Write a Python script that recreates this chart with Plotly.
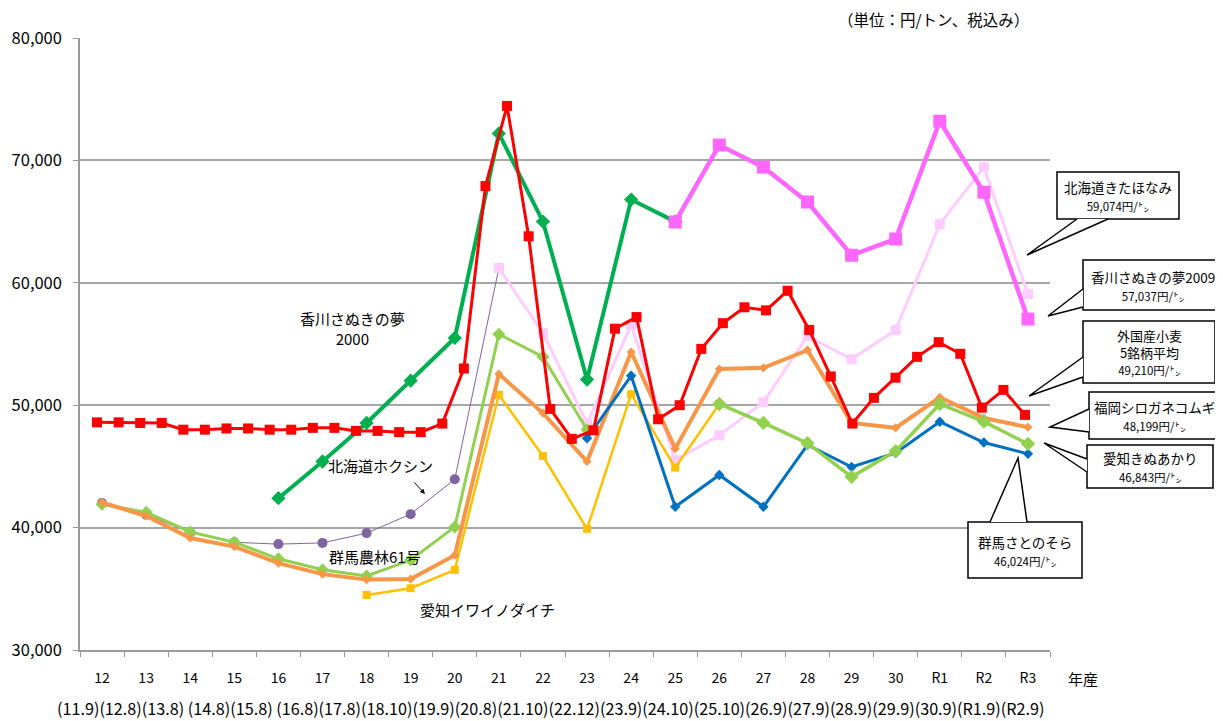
import plotly.graph_objects as go

# ---------------- data ----------------
years = ["12", "13", "14", "15", "16", "17", "18", "19", "20", "21", "22",
         "23", "24", "25", "26", "27", "28", "29", "30", "R1", "R2", "R3"]

kagawa2000 = [None, None, None, None, 42400, 45400, 48550, 52000, 55500, 72200,
              65000, 52100, 66800, 65000, None, None, None, None, None, None, None, None]
kagawa2009 = [None] * 13 + [64970, 71250, 69450, 66600, 62250, 63580, 73200, 67400, 57037]
kitahonami = [None] * 9 + [61200, 55900, 48500, 56550, 45500, 47550, 50250, 55650,
                           53750, 56150, 64800, 69450, 59074]
hokushin = [42000, 41050, 39600, 38800, 38650, 38750, 39550, 41100, 43950, 61200] + [None] * 12
gunma61 = [41900, 41250, 39650, 38800, 37450, 36550, 36050, 37350, 40050, 55800,
           53950, 48000] + [None] * 10
fukuoka = [42050, 40950, 39150, 38450, 37100, 36200, 35750, 35800, 37750, 52550, 49350,
           45400, 54350, 46450, 52950, 53050, 54500, 48550, 48150, 50650, 48950, 48199]
satonosora = [None] * 11 + [47300, 52400, 41700, 44300, 41700, 46750, 44950, 46100,
                            48650, 46950, 46024]
iwainodaichi = [None] * 6 + [34500, 35050, 36550, 50850, 45850, 39900, 50900, 44900,
                             50100] + [None] * 7
kinuakari = [None] * 14 + [50100, 48550, 46900, 44150, 46250, 50100, 48650, 46843]

# imported wheat (5-brand average), twice a year
gaikoku = [48600, 48600, 48550, 48550, 48000, 48000, 48100, 48100, 48000, 48000,
           48150, 48150, 47900, 47900, 47800, 47800, 48500, 53000, 67900, 74450,
           63800, 49700, 47250, 47950, 56250, 57200, 48850, 50000, 54600, 56700,
           58000, 57750, 59350, 56150, 52350, 48500, 50600, 52250, 53950, 55150,
           54200, 49800, 51250, 49210]
gaikoku_periods = list(range(len(gaikoku)))

period_text = ("(11.9)(12.8)(13.8) (14.8)(15.8) (16.8)(17.8)(18.10)(19.9)(20.8)(21.10)"
               "(22.12)(23.9)(24.10)(25.10)(26.9)(27.9)(28.9)(29.9)(30.9)(R1.9)(R2.9)")

# ---------------- layout helpers ----------------
W, H = 1223, 721          # browser window
OFF = 8                   # default page body margin
L, R, T, B = 80, 1050, 38, 650   # plot area in window pixels
FONT = "Noto Sans CJK JP"


def px(x):
    return (x - L) / (R - L)


def py(y):
    return (B - y) / (B - T)


fig = go.Figure()


def add(name, y, color, width, symbol, size, xa="x"):
    fig.add_trace(go.Scatter(
        x=years if xa == "x" else gaikoku_periods,
        y=y, name=name, mode="lines+markers", xaxis=xa, yaxis="y",
        line=dict(color=color, width=width),
        marker=dict(symbol=symbol, size=size, color=color),
        hoverinfo="name+y", showlegend=False))


add("北海道ホクシン", hokushin, "#8064A2", 1, "circle", 10)
add("北海道きたほなみ", kitahonami, "#FFCCFF", 3, "square", 10)
add("愛知イワイノダイチ", iwainodaichi, "#FFC000", 2.5, "square", 8)
add("群馬農林61号", gunma61, "#92D050", 3, "diamond", 10)
add("福岡シロガネコムギ", fukuoka, "#F79646", 4, "diamond", 7)
add("群馬さとのそら", satonosora, "#0070C0", 3, "diamond", 8)
add("愛知きぬあかり", kinuakari, "#92D050", 3.5, "diamond", 11)
add("香川さぬきの夢2000", kagawa2000, "#00B050", 4, "diamond", 11)
add("香川さぬきの夢2009", kagawa2009, "#FF66FF", 4.5, "square", 13)
add("外国産小麦5銘柄平均", gaikoku, "#FF0000", 3, "square", 10, xa="x2")

annotations = []
shapes = []


def text(x, y, s, size=15, xanchor="center"):
    annotations.append(dict(x=px(x), y=py(y), xref="paper", yref="paper", text=s,
                            showarrow=False, xanchor=xanchor, yanchor="middle",
                            borderpad=0,
                            font=dict(family=FONT, size=size, color="black")))


text(352, 328, "香川さぬきの夢<br>2000", 15)
text(380, 465, "北海道ホクシン", 15)
text(375, 556, "群馬農林61号", 15)
text(487, 609, "愛知イワイノダイチ", 15)
text(933, 19, "（単位：円/トン、税込み）", 15.5)
text(1083, 678, "年産", 15)
text(550, 708, period_text, 16.2)

# small arrow near ホクシン label
annotations.append(dict(x=px(425), y=py(494), xref="paper", yref="paper", text="",
                        showarrow=True, ax=-12, ay=-13, arrowhead=2, arrowsize=1,
                        arrowwidth=1, arrowcolor="black"))


def callout(x0, y0, x1, y1, base1, base2, tip, lines, size=13.5):
    shapes.append(dict(type="rect", xref="paper", yref="paper",
                       x0=px(x0), x1=px(x1), y0=py(y1), y1=py(y0),
                       fillcolor="white", line=dict(color="black", width=1.5), layer="above"))
    p = "M {} {} L {} {} L {} {} Z".format(px(base1[0]), py(base1[1]), px(tip[0]), py(tip[1]),
                                            px(base2[0]), py(base2[1]))
    shapes.append(dict(type="path", xref="paper", yref="paper", path=p,
                       fillcolor="white", line=dict(width=0), layer="above"))
    p2 = "M {} {} L {} {} L {} {}".format(px(base1[0]), py(base1[1]), px(tip[0]), py(tip[1]),
                                           px(base2[0]), py(base2[1]))
    shapes.append(dict(type="path", xref="paper", yref="paper", path=p2,
                       line=dict(color="black", width=1.5), layer="above"))
    annotations.append(dict(x=px((x0 + x1) / 2), y=py((y0 + y1) / 2), xref="paper",
                            yref="paper", text=lines, showarrow=False,
                            xanchor="center", yanchor="middle", borderpad=0,
                            font=dict(family=FONT, size=size, color="black")))


small = "<span style='font-size:11.5px'>{}</span>"
callout(1057, 172, 1179, 219, (1077, 219), (1108, 219), (1027, 255),
        "北海道きたほなみ<br>" + small.format("59,074円/㌧"))
callout(1083, 260, 1223, 310, (1083, 289), (1083, 307), (1048, 316),
        "香川さぬきの夢2009<br>" + small.format("57,037円/㌧"))
callout(1083, 321, 1215, 383, (1083, 357), (1083, 377), (1029, 396),
        "外国産小麦<br>5銘柄平均<br>" + small.format("49,210円/㌧"), size=13)
callout(1089, 392, 1220, 439, (1089, 409), (1089, 432), (1050, 427),
        "福岡シロガネコムギ<br>" + small.format("48,199円/㌧"))
callout(1087, 445, 1213, 488, (1087, 459), (1087, 472), (1044, 443),
        "愛知きぬあかり<br>" + small.format("46,843円/㌧"))
callout(968, 522, 1082, 578, (990, 522), (1027, 522), (1018, 458),
        "群馬さとのそら<br>" + small.format("46,024円/㌧"))

fig.update_layout(
    width=W - OFF, height=H - OFF,
    margin=dict(l=L - OFF, r=W - R, t=T - OFF, b=H - B, autoexpand=False),
    paper_bgcolor="white", plot_bgcolor="white",
    font=dict(family=FONT, color="black"),
    showlegend=False,
    xaxis=dict(type="category", categoryorder="array", categoryarray=years,
               range=[-0.5, 21.5], tickson="boundaries", ticks="outside", ticklen=5,
               tickcolor="#999999", showline=True, linecolor="#999999", linewidth=1.5,
               showgrid=False, zeroline=False, tickfont=dict(size=14, family=FONT),
               ticklabelstandoff=14, fixedrange=True, automargin=False),
    xaxis2=dict(overlaying="x", anchor="y", range=[-0.788, 44.158], visible=False,
                fixedrange=True),
    yaxis=dict(range=[30000, 80000], dtick=10000, tickformat=",", ticks="outside",
               ticklen=5, tickcolor="#999999", showline=True, linecolor="#999999",
               linewidth=1.5, showgrid=True, gridcolor="#A6A6A6", gridwidth=1.5,
               zeroline=False, tickfont=dict(size=16.5, family=FONT),
               ticklabelstandoff=8, fixedrange=True, automargin=False),
    annotations=annotations,
    shapes=shapes,
)

fig.write_html("out.html")
